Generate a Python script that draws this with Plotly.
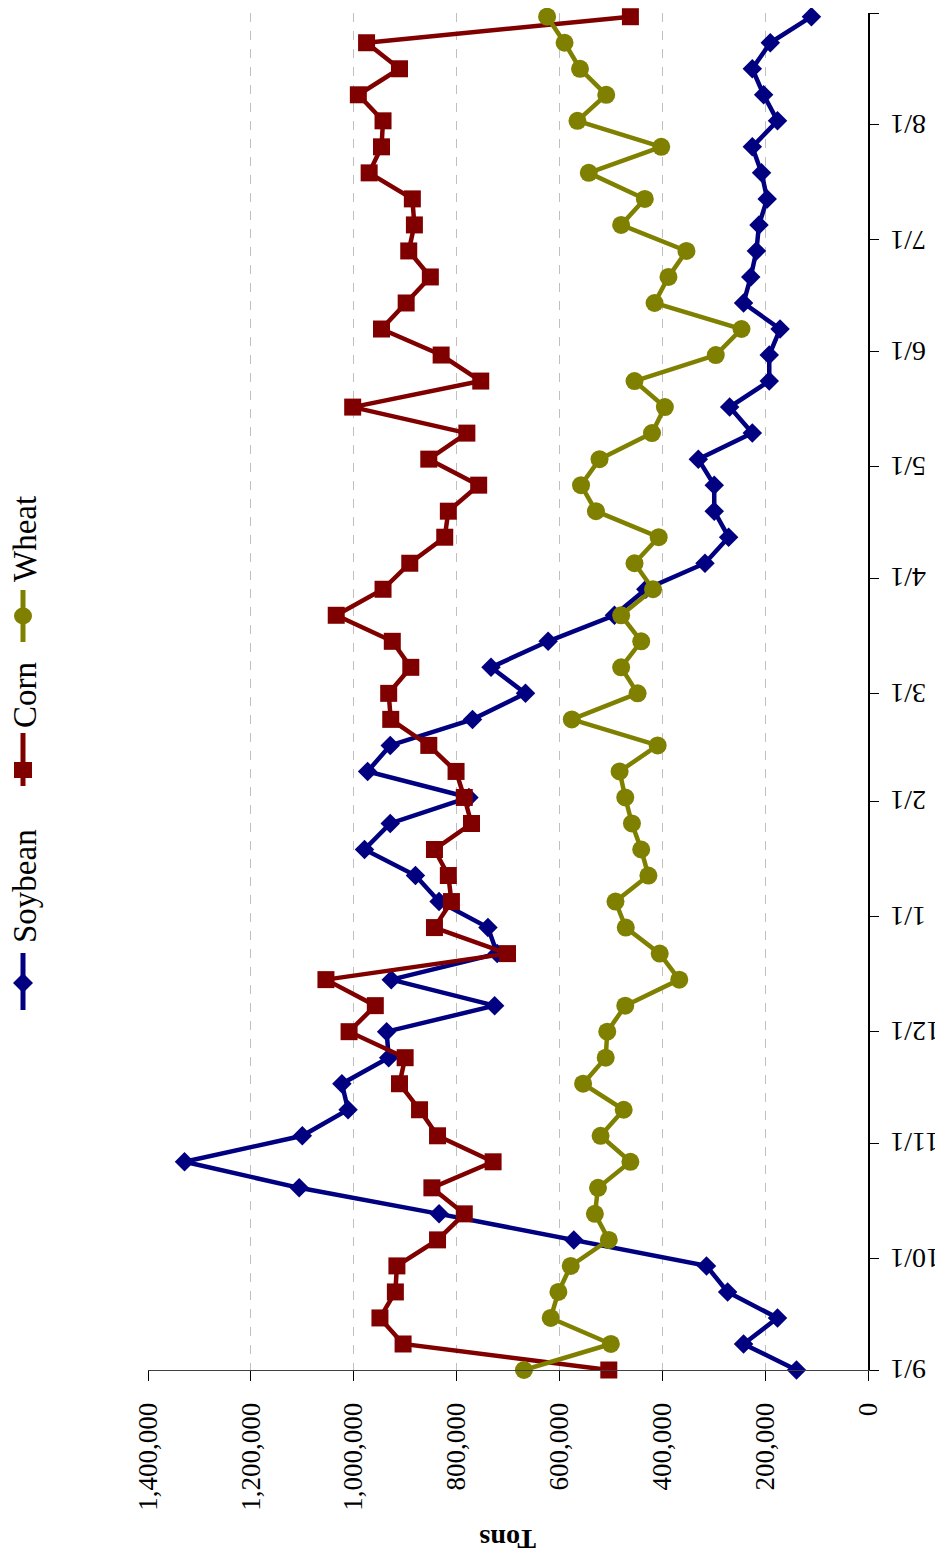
import plotly.graph_objects as go
import pandas as pd

# Weekly observation dates (categories)
dates = pd.date_range("2011-09-01", periods=53, freq="7D")

# Tons
soybean = [139000, 242000, 176000, 273000, 314000, 572000, 834000, 1106000, 1329000, 1100000,
           1011000, 1023000, 932000, 936000, 726000, 927000, 721000, 739000, 834000, 880000,
           979000, 929000, 776000, 973000, 929000, 769000, 666000, 733000, 622000, 493000,
           432000, 317000, 271000, 299000, 299000, 330000, 225000, 269000, 192000, 192000,
           171000, 242000, 228000, 217000, 212000, 196000, 207000, 225000, 176000, 203000,
           225000, 190000, 110000]
corn = [504000, 904000, 949000, 919000, 916000, 837000, 785000, 848000, 729000, 837000,
        872000, 911000, 900000, 1009000, 958000, 1054000, 701000, 843000, 810000, 816000,
        843000, 771000, 785000, 801000, 854000, 928000, 932000, 889000, 925000, 1034000,
        943000, 891000, 823000, 816000, 757000, 854000, 780000, 1002000, 753000, 830000,
        946000, 898000, 851000, 893000, 882000, 886000, 970000, 946000, 943000, 991000,
        911000, 975000, 462000]
wheat = [669000, 500000, 617000, 602000, 578000, 504000, 531000, 525000, 462000, 520000,
         475000, 554000, 510000, 507000, 472000, 367000, 405000, 471000, 491000, 427000,
         441000, 459000, 472000, 483000, 409000, 576000, 448000, 480000, 441000, 480000,
         418000, 454000, 407000, 529000, 558000, 522000, 420000, 395000, 454000, 296000,
         246000, 415000, 388000, 353000, 480000, 434000, 543000, 402000, 565000, 509000,
         560000, 590000, 624000]

series_names = ["Soybean", "Corn", "Wheat"]
series_colors = ["#000080", "#800000", "#808000"]
series_symbols = ["diamond", "square", "circle"]

month_ticks = ["2011-09-01", "2011-10-01", "2011-11-01", "2011-12-01", "2012-01-01",
               "2012-02-01", "2012-03-01", "2012-04-01", "2012-05-01", "2012-06-01",
               "2012-07-01", "2012-08-01", "2012-08-31"]
month_labels = ["9/1", "10/1", "11/1", "12/1", "1/1", "2/1", "3/1", "4/1", "5/1",
                "6/1", "7/1", "8/1", ""]
value_ticks = [0, 200000, 400000, 600000, 800000, 1000000, 1200000, 1400000]

# page has an 8px body margin; figure coordinates are offset accordingly
OFF = 8
W, H = 935, 1548
ML, MT = 140, 5
PW, PH = 720, 1357
MR = W - ML - PW
MB = H - MT - PH
SX0 = ML + OFF          # screen x of plot left
SY1 = MT + OFF + PH     # screen y of plot bottom


def px(x):
    return (x - SX0) / PW


def py(y):
    return (SY1 - y) / PH


FONT = "Liberation Serif"
fig = go.Figure()
sizes = [15, 17, 18]
for name, vals, col, sym, sz in zip(series_names, [soybean, corn, wheat], series_colors,
                                    series_symbols, sizes):
    fig.add_trace(go.Scatter(
        x=vals, y=dates, mode="lines+markers", name=name,
        line=dict(color=col, width=4.5),
        marker=dict(symbol=sym, size=sz, color=col),
        showlegend=False, cliponaxis=False,
    ))

shapes = []
annotations = []
# manual rotated legend
legend_items = [
    # name, color, symbol, line y0, y1, marker y, text centre y
    ("Soybean", "#000080", "diamond", 953, 1010, 983, 886),
    ("Corn", "#800000", "square", 733, 786, 770, 695),
    ("Wheat", "#808000", "circle", 590, 642, 616, 539),
]
lx = 23
for name, col, sym, y0, y1, ym, ty in legend_items:
    shapes.append(dict(type="line", xref="paper", yref="paper",
                       x0=px(lx), x1=px(lx), y0=py(y0), y1=py(y1),
                       line=dict(color=col, width=5)))
    r = 9
    if sym == "diamond":
        path = "M {} {} L {} {} L {} {} L {} {} Z".format(
            px(lx), py(ym - r - 1), px(lx + r + 1), py(ym), px(lx), py(ym + r + 1), px(lx - r - 1), py(ym))
        shapes.append(dict(type="path", xref="paper", yref="paper", path=path,
                           fillcolor=col, line=dict(color=col, width=0)))
    elif sym == "square":
        shapes.append(dict(type="rect", xref="paper", yref="paper",
                           x0=px(lx - r), x1=px(lx + r), y0=py(ym - 8), y1=py(ym + 8),
                           fillcolor=col, line=dict(color=col, width=0)))
    else:
        shapes.append(dict(type="circle", xref="paper", yref="paper",
                           x0=px(lx - r), x1=px(lx + r), y0=py(ym - 8.5), y1=py(ym + 8.5),
                           fillcolor=col, line=dict(color=col, width=0)))
    annotations.append(dict(text=name, xref="paper", yref="paper", x=px(25), y=py(ty),
                            xanchor="center", yanchor="middle", showarrow=False,
                            textangle=-90, font=dict(family=FONT, size=33, color="black")))

# upside-down month labels to the right of the date axis
for tv, tl in zip(month_ticks, month_labels):
    if tl:
        annotations.append(dict(text=tl, xref="paper", yref="y", x=px(888), y=tv,
                                xanchor="left", yanchor="middle", showarrow=False,
                                textangle=180,
                                font=dict(family=FONT, size=28, color="black")))

annotations.append(dict(text="<b>Tons</b>", xref="paper", yref="paper", x=px(508), y=py(1539),
                        xanchor="center", yanchor="middle", showarrow=False, textangle=180,
                        font=dict(family=FONT, size=28, color="black")))

fig.update_layout(
    width=W, height=H,
    margin=dict(l=ML, r=MR, t=MT, b=MB),
    paper_bgcolor="white", plot_bgcolor="white",
    showlegend=False,
    shapes=shapes, annotations=annotations,
    font=dict(family=FONT, size=28, color="black"),
)
fig.update_xaxes(
    range=[1400000, 0], tickvals=value_ticks, tickformat=",",
    tickangle=-90, ticks="outside", ticklen=10, tickcolor="black",
    ticklabelstandoff=11,
    showline=True, linecolor="#404040", linewidth=1,
    showgrid=True, gridcolor="#c0c0c0", griddash="dash", gridwidth=1,
    zeroline=False, tickfont=dict(family=FONT, size=27, color="black"),
)
fig.update_yaxes(
    type="date", range=["2011-09-01", "2012-08-31"], side="right",
    tickvals=month_ticks, ticktext=month_labels, showticklabels=False,
    ticks="outside", ticklen=9, tickcolor="black",
    showline=True, linecolor="black", linewidth=1.5, mirror=False,
    showgrid=False, zeroline=False,
)
fig.write_html("out.html")
